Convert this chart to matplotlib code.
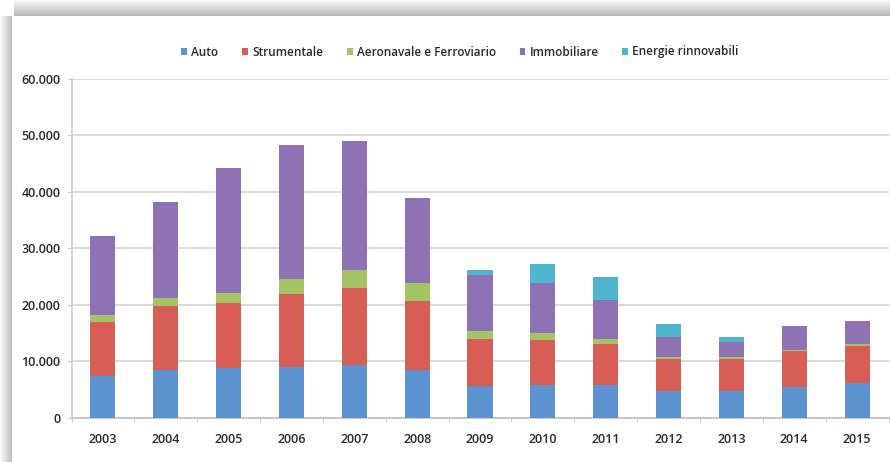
import numpy as np
import matplotlib
matplotlib.use("Agg")
import matplotlib.pyplot as plt
from matplotlib.ticker import FuncFormatter

plt.rcParams['font.family'] = ['Open Sans', 'DejaVu Sans']

years = ['2003', '2004', '2005', '2006', '2007', '2008', '2009',
         '2010', '2011', '2012', '2013', '2014', '2015']

# values per segment (milioni di euro)
auto = [7430, 8430, 8900, 9020, 9320, 8430, 5660, 5900, 5900, 4830, 4720, 5480, 6130]
strumentale = [9610, 11320, 11500, 12970, 13730, 12210, 8370, 7960, 7190, 5610, 5720, 6370, 6660]
aeronavale = [1120, 1540, 1770, 2600, 3190, 3180, 1360, 1230, 830, 410, 290, 240, 360]
immobiliare = [14030, 16920, 22050, 23640, 22760, 14980, 9960, 8790, 7010, 3540, 2710, 4120, 4010]
energie = [0, 0, 0, 0, 0, 0, 770, 3420, 3950, 2180, 950, 120, 0]

series = [
    ('Auto', auto, '#5b92cf'),
    ('Strumentale', strumentale, '#d65e55'),
    ('Aeronavale e Ferroviario', aeronavale, '#a4c365'),
    ('Immobiliare', immobiliare, '#8e72b4'),
    ('Energie rinnovabili', energie, '#4fb5cc'),
]

W, H = 890, 462
fig = plt.figure(figsize=(W / 100, H / 100), dpi=100, facecolor='white')

# frame shadow (top and left), like the screenshot
bg = fig.add_axes([0, 0, 1, 1], zorder=-1)
bg.set_xlim(0, W)
bg.set_ylim(H, 0)
bg.axis('off')
top = np.linspace(0.97, 0.72, 40).reshape(-1, 1)
bg.imshow(np.repeat(top, 10, axis=1), cmap='gray', vmin=0, vmax=1,
          extent=(14, W, 16, 0), aspect='auto', interpolation='bilinear')
left = np.linspace(0.99, 0.74, 30).reshape(1, -1)
bg.imshow(np.repeat(left, 10, axis=0), cmap='gray', vmin=0, vmax=1,
          extent=(0, 12, H, 16), aspect='auto', interpolation='bilinear')

ax = fig.add_axes([71.5 / W, 44 / H, 817 / W, 339.5 / H])
x = np.arange(len(years))
bottom = np.zeros(len(years))
for name, vals, col in series:
    vals = np.array(vals, dtype=float)
    ax.bar(x, vals, 0.4, bottom=bottom, color=col, label=name, zorder=3)
    bottom += vals

ax.set_xlim(-0.5, len(years) - 0.5)
ax.set_ylim(0, 60000)
ax.set_yticks(np.arange(0, 60001, 10000))
ax.yaxis.set_major_formatter(FuncFormatter(lambda v, p: f'{int(v):,}'.replace(',', '.')))
ax.grid(axis='y', color='#d9d9d9', linewidth=1.4, zorder=0)
ax.set_xticks(x)
ax.set_xticklabels(years)
ax.set_xticks(np.arange(-0.5, len(years), 1), minor=True)
ax.tick_params(axis='x', which='major', length=0, pad=11, labelsize=9, labelcolor='#2a2a2a')
ax.tick_params(axis='x', which='minor', length=3, color='#bfbfbf')
ax.tick_params(axis='y', length=3, color='#bfbfbf', pad=5, labelsize=9, labelcolor='#2a2a2a')
for lab in ax.get_xticklabels() + ax.get_yticklabels():
    lab.set_fontweight('semibold')

for s in ['top', 'right']:
    ax.spines[s].set_visible(False)
ax.spines['left'].set_color('#d0d0d0')
ax.spines['bottom'].set_color('#bfbfbf')
ax.spines['left'].set_linewidth(1.2)
ax.spines['bottom'].set_linewidth(1.2)

leg = fig.legend(loc='center', bbox_to_anchor=(460 / W, 1 - 52 / H), ncol=5, frameon=False,
                 fontsize=8.5, handlelength=0.5, handleheight=0.5, handletextpad=0.35,
                 columnspacing=2.0, labelcolor='#2a2a2a')
for t in leg.get_texts():
    t.set_fontweight('semibold')

fig.savefig('out.png', dpi=100, facecolor='white')
